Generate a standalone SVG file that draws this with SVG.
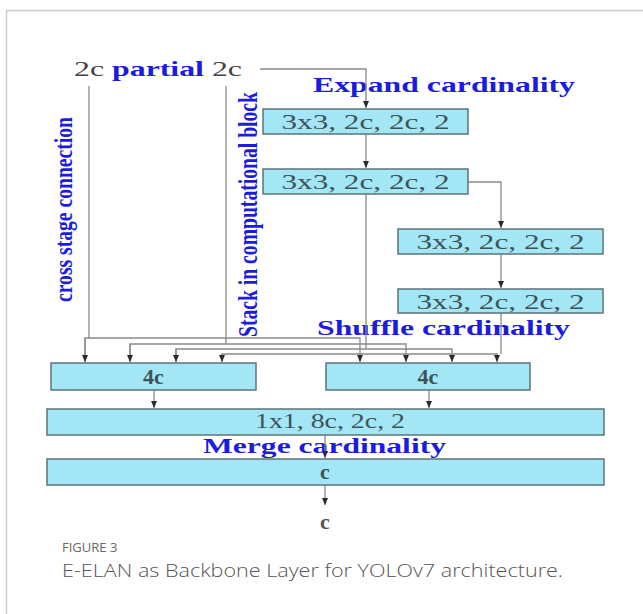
<svg xmlns="http://www.w3.org/2000/svg" width="643" height="614" viewBox="0 0 643 614">
<style>
.box{fill:#a3e7f7;stroke:#5c7479;stroke-width:1.5}
.bt{font-family:"Liberation Serif",serif;font-size:22px;fill:#3f5257;text-anchor:middle}
.lbl{font-family:"Liberation Serif",serif;font-size:22px;font-weight:bold;fill:#1c1ce0}
.gr{fill:#444}
.ln{fill:none;stroke:#8a8a8a;stroke-width:1.3}
.cap1{font-family:"Open Sans","Noto Sans",sans-serif;font-size:13px;fill:#666}
.cap2{font-family:"Open Sans","Noto Sans",sans-serif;font-size:18px;fill:#555;font-weight:300}
</style>
<defs>
<marker id="ah" markerWidth="7" markerHeight="6" refX="7" refY="3" orient="auto" markerUnits="userSpaceOnUse">
<path d="M0,0 L7,3 L0,6 Z" fill="#2a2a2a"/>
</marker>
</defs>
<rect x="0" y="0" width="643" height="614" fill="#fff"/>
<path d="M6.5,614 V10.5 H643" fill="none" stroke="#cccccc" stroke-width="1.5"/>

<g id="labels">
<text x="74" y="76" class="lbl" textLength="168" lengthAdjust="spacingAndGlyphs"><tspan class="gr" font-weight="normal">2c</tspan> partial <tspan class="gr" font-weight="normal">2c</tspan></text>
<text x="313" y="92" class="lbl" textLength="262" lengthAdjust="spacingAndGlyphs">Expand cardinality</text>
<text x="317" y="335" class="lbl" textLength="253" lengthAdjust="spacingAndGlyphs">Shuffle cardinality</text>
<text x="203" y="453" class="lbl" textLength="243" lengthAdjust="spacingAndGlyphs">Merge cardinality</text>
<text transform="translate(72,302) rotate(-90)" class="lbl" style="font-size:25px" textLength="185" lengthAdjust="spacingAndGlyphs">cross stage connection</text>
<text transform="translate(257,337) rotate(-90)" class="lbl" style="font-size:27px" textLength="245" lengthAdjust="spacingAndGlyphs">Stack in computational block</text>
</g>

<g id="connectors">
<path class="ln" d="M260,69 H366 V108" marker-end="url(#ah)"/>
<path class="ln" d="M366,134 V168" marker-end="url(#ah)"/>
<path class="ln" d="M468,182 H501 V228" marker-end="url(#ah)"/>
<path class="ln" d="M501,254 V288" marker-end="url(#ah)"/>
<path class="ln" d="M89,86 V338"/>
<path class="ln" d="M226,86 V344"/>
<path class="ln" d="M366,194 V349"/>
<path class="ln" d="M501,313 V354"/>
<path class="ln" d="M85,362 V338 H360 V362" marker-end="url(#ah)"/>
<path class="ln" d="M85,338 V362" marker-end="url(#ah)"/>
<path class="ln" d="M130,362 V344 H406 V362" marker-end="url(#ah)"/>
<path class="ln" d="M130,344 V362" marker-end="url(#ah)"/>
<path class="ln" d="M176,362 V349 H452 V362" marker-end="url(#ah)"/>
<path class="ln" d="M176,349 V362" marker-end="url(#ah)"/>
<path class="ln" d="M222,362 V354 H497 V362" marker-end="url(#ah)"/>
<path class="ln" d="M222,354 V362" marker-end="url(#ah)"/>
<path class="ln" d="M154,390 V408" marker-end="url(#ah)"/>
<path class="ln" d="M429,390 V408" marker-end="url(#ah)"/>
<path class="ln" d="M325,435 V458" marker-end="url(#ah)"/>
<path class="ln" d="M325,485 V505" marker-end="url(#ah)"/>
</g>

<g id="b1"><rect class="box" x="263" y="109" width="205" height="25"/><text class="bt" x="365.5" y="129" textLength="168" lengthAdjust="spacingAndGlyphs">3x3, 2c, 2c, 2</text></g>
<g id="b2"><rect class="box" x="263" y="169" width="205" height="25"/><text class="bt" x="365.5" y="189" textLength="168" lengthAdjust="spacingAndGlyphs">3x3, 2c, 2c, 2</text></g>
<g id="b3"><rect class="box" x="398" y="229" width="205" height="25"/><text class="bt" x="500.5" y="249" textLength="168" lengthAdjust="spacingAndGlyphs">3x3, 2c, 2c, 2</text></g>
<g id="b4"><rect class="box" x="398" y="289" width="205" height="24"/><text class="bt" x="500.5" y="309" textLength="168" lengthAdjust="spacingAndGlyphs">3x3, 2c, 2c, 2</text></g>
<g id="c4a"><rect class="box" x="51" y="363" width="205" height="27"/><text class="bt" x="153.5" y="384" font-weight="bold">4c</text></g>
<g id="c4b"><rect class="box" x="326" y="363" width="204" height="27"/><text class="bt" x="428" y="384" font-weight="bold">4c</text></g>
<g id="m1"><rect class="box" x="47" y="409" width="557" height="26"/><text class="bt" x="330" y="428" style="font-size:21px" textLength="150" lengthAdjust="spacingAndGlyphs">1x1, 8c, 2c, 2</text></g>
<g id="mc"><rect class="box" x="47" y="459" width="557" height="26"/><text class="bt" x="325" y="479" font-weight="bold">c</text></g>
<g id="out"><text class="bt" x="325" y="529" font-weight="bold" style="fill:#555">c</text></g>

<g id="caption">
<text class="cap1" x="62" y="552">FIGURE 3</text>
<text class="cap2" x="62" y="577" textLength="501" lengthAdjust="spacingAndGlyphs">E-ELAN as Backbone Layer for YOLOv7 architecture.</text>
</g>
</svg>
